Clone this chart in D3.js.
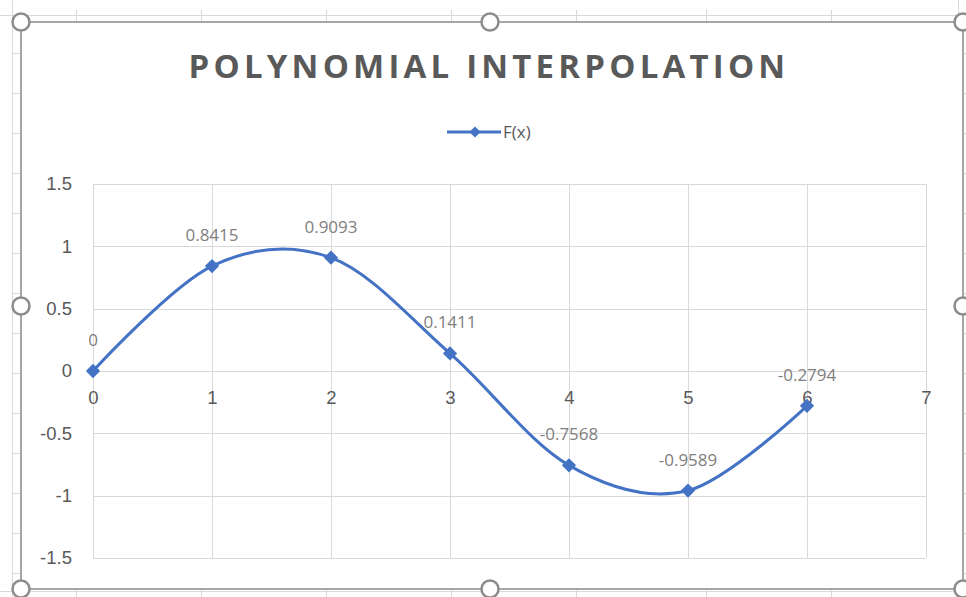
<!DOCTYPE html>
<html>
<head>
<meta charset="utf-8">
<script src="https://cdn.jsdelivr.net/npm/d3@7"></script>
<style>
  body { margin: 0; background: #fff; }
  svg { display: block; font-family: "Open Sans", sans-serif; }
</style>
</head>
<body>
<div id="my_dataviz"></div>
<script>
// data
var xValues = [0, 1, 2, 3, 4, 5, 6];
var fValues = [0, 0.8415, 0.9093, 0.1411, -0.7568, -0.9589, -0.2794];
var labels = ["0", "0.8415", "0.9093", "0.1411", "-0.7568", "-0.9589", "-0.2794"];
var xTicks = [0, 1, 2, 3, 4, 5, 6, 7];
var yTicks = [1.5, 1, 0.5, 0, -0.5, -1, -1.5];
var yTickLabels = ["1.5", "1", "0.5", "0", "-0.5", "-1", "-1.5"];

var W = 966, H = 597;
var svg = d3.select("#my_dataviz")
    .append("svg")
    .attr("width", W)
    .attr("height", H);

// spreadsheet cell lines peeking around the chart
var sheet = svg.append("g").attr("stroke", "#d9d9d9").attr("stroke-width", 1);
sheet.append("line").attr("x1", 0).attr("x2", W).attr("y1", 15.5).attr("y2", 15.5);
sheet.append("line").attr("x1", 0).attr("x2", W).attr("y1", 591.5).attr("y2", 591.5);
sheet.append("line").attr("x1", 12.5).attr("x2", 12.5).attr("y1", 0).attr("y2", H);
sheet.append("line").attr("x1", 958.5).attr("x2", 958.5).attr("y1", 0).attr("y2", H);
[76, 201, 326, 451, 576, 706, 831].forEach(function (x) {
    sheet.append("line").attr("x1", x + 0.5).attr("x2", x + 0.5).attr("y1", 10).attr("y2", 22);
    sheet.append("line").attr("x1", x + 0.5).attr("x2", x + 0.5).attr("y1", 589).attr("y2", 597);
});
d3.range(53, 590, 40).forEach(function (y) {
    sheet.append("line").attr("x1", 12).attr("x2", 21).attr("y1", y + 0.5).attr("y2", y + 0.5);
    sheet.append("line").attr("x1", 958).attr("x2", 966).attr("y1", y + 0.5).attr("y2", y + 0.5);
});

// chart area
svg.append("rect")
    .attr("x", 21).attr("y", 22)
    .attr("width", 942).attr("height", 567)
    .attr("fill", "#fff")
    .attr("stroke", "#a6a6a6")
    .attr("stroke-width", 2);

// title
svg.append("text")
    .attr("x", 489).attr("y", 78)
    .attr("text-anchor", "middle")
    .attr("fill", "#595959")
    .style("font-size", "33px")
    .style("font-weight", "bold")
    .style("letter-spacing", "4.2px")
    .text("POLYNOMIAL INTERPOLATION");

// scales
var x = d3.scaleLinear().domain([0, 7]).range([93, 926]);
var y = d3.scaleLinear().domain([-1.5, 1.5]).range([558, 184]);

// gridlines
svg.append("g")
    .selectAll("line.h")
    .data(yTicks)
    .enter()
    .append("line")
    .attr("x1", x(0)).attr("x2", x(7))
    .attr("y1", function (d) { return Math.round(y(d)) + 0.5; })
    .attr("y2", function (d) { return Math.round(y(d)) + 0.5; })
    .attr("stroke", "#d9d9d9");
svg.append("g")
    .selectAll("line.v")
    .data(xTicks)
    .enter()
    .append("line")
    .attr("x1", function (d) { return Math.round(x(d)) + 0.5; })
    .attr("x2", function (d) { return Math.round(x(d)) + 0.5; })
    .attr("y1", y(1.5)).attr("y2", y(-1.5))
    .attr("stroke", "#d9d9d9");

// Y axis labels
var yAxis = svg.append("g")
    .attr("transform", "translate(" + x(0) + ",0)")
    .call(d3.axisLeft(y).tickValues(yTicks).tickSize(0).tickPadding(21)
        .tickFormat(function (d, i) { return yTickLabels[i]; }));
yAxis.select(".domain").remove();
yAxis.selectAll("text").attr("fill", "#595959").style("font-size", "18.5px");

// X axis labels at y = 0 (sit just below the zero line, under the markers)
var xAxis = svg.append("g")
    .attr("transform", "translate(0," + y(0) + ")")
    .call(d3.axisBottom(x).tickValues(xTicks).tickSize(0).tickPadding(31).tickFormat(d3.format("d")));
xAxis.select(".domain").remove();
xAxis.selectAll("text").attr("fill", "#595959").style("font-size", "18.5px").attr("dy", "0.1em");

var pts = xValues.map(function (d, i) { return [d, fValues[i]]; });
var blue = "#4472c4";

// smoothed line
svg.append("path")
    .datum(pts)
    .attr("fill", "none")
    .attr("stroke", blue)
    .attr("stroke-width", 3)
    .attr("d", d3.line()
        .x(function (d) { return x(d[0]); })
        .y(function (d) { return y(d[1]); })
        .curve(d3.curveCardinal.tension(0)));

var diamond = d3.symbol().type(d3.symbolDiamond2).size(130);
svg.append("g")
    .selectAll("path")
    .data(pts)
    .enter()
    .append("path")
    .attr("d", diamond)
    .attr("transform", function (d) { return "translate(" + x(d[0]) + "," + y(d[1]) + ")"; })
    .attr("fill", blue);

// data labels
svg.append("g")
    .selectAll("text")
    .data(pts)
    .enter()
    .append("text")
    .attr("x", function (d) { return x(d[0]); })
    .attr("y", function (d) { return y(d[1]) - 25; })
    .attr("text-anchor", "middle")
    .attr("fill", "#808080")
    .style("font-size", "17px")
    .text(function (d, i) { return labels[i]; });

// legend
var lg = svg.append("g").attr("transform", "translate(447,132)");
lg.append("line").attr("x1", 0).attr("x2", 54).attr("stroke", blue).attr("stroke-width", 3);
lg.append("path").attr("d", d3.symbol().type(d3.symbolDiamond2).size(80)).attr("transform", "translate(28,0)").attr("fill", blue);
lg.append("text").attr("x", 56).attr("y", 6).attr("fill", "#595959").style("font-size", "17px").text("F(x)");

// selection handles
var handles = [[21, 22], [490, 22], [963, 22], [21, 306], [963, 306], [21, 589], [490, 589], [963, 589]];
svg.append("g")
    .selectAll("circle")
    .data(handles)
    .enter()
    .append("circle")
    .attr("cx", function (d) { return d[0]; })
    .attr("cy", function (d) { return d[1]; })
    .attr("r", 8.5)
    .attr("fill", "#fff")
    .attr("stroke", "#8c8c8c")
    .attr("stroke-width", 2.5);
</script>
</body>
</html>
